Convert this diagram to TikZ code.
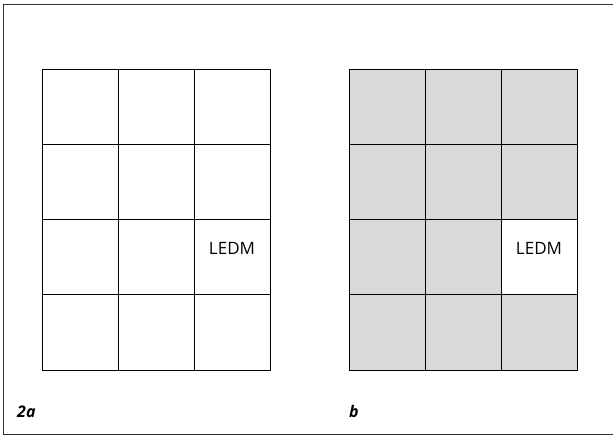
\documentclass[tikz,border=0pt]{standalone}
\usepackage{fontspec}
\setmainfont{Open Sans}
\usepackage{tikz}
\usetikzlibrary{positioning}
\definecolor{cellgray}{RGB}{217,217,217}

\begin{document}
\begin{tikzpicture}[
    x=1pt, y=-1pt,
    cell/.style={rectangle, draw=black, line width=0.9pt, fill=white, minimum width=76pt, minimum height=75.25pt, inner sep=0pt, outer sep=0pt},
    shaded/.style={cell, fill=cellgray},
    tag/.style={font=\fontsize{16}{18}\selectfont\bfseries\itshape, anchor=base west, inner sep=0pt},
    font=\fontsize{17}{20}\selectfont
]
    \useasboundingbox (0,0) rectangle (613,436);

    % --- outer frame (open at the right) ---
    \coordinate (tr) at (614,4.5);
    \coordinate (tl) at (3,4.5);
    \coordinate (bl) at (3,434.5);
    \coordinate (br) at (614,434.5);
    \draw[line width=1pt, black!80] (tr)--(tl)--(bl)--(br);

    % --- GRID 2a (white) ---
    \begin{scope}[xshift=0pt]
        \node[cell] (a11) at (80,106.6) {};
        \node[cell] (a12) [right=0pt of a11] {};
        \node[cell] (a13) [right=0pt of a12] {};
        \node[cell] (a21) [below=0pt of a11] {};
        \node[cell] (a22) [right=0pt of a21] {};
        \node[cell] (a23) [right=0pt of a22] {};
        \node[cell] (a31) [below=0pt of a21] {};
        \node[cell] (a32) [right=0pt of a31] {};
        \node[cell] (a33) [right=0pt of a32] {};
        \node[cell] (a41) [below=0pt of a31] {};
        \node[cell] (a42) [right=0pt of a41] {};
        \node[cell] (a43) [right=0pt of a42] {};
        \node (ledmA) [above=9pt of a33.center, anchor=center] {LEDM};
        \node[tag] (capA) at (17,417) {2a};
    \end{scope}

    % --- GRID b (grey, one white cell) ---
    \begin{scope}[xshift=307pt]
        \node[shaded] (b11) at (80,106.6) {};
        \node[shaded] (b12) [right=0pt of b11] {};
        \node[shaded] (b13) [right=0pt of b12] {};
        \node[shaded] (b21) [below=0pt of b11] {};
        \node[shaded] (b22) [right=0pt of b21] {};
        \node[shaded] (b23) [right=0pt of b22] {};
        \node[shaded] (b31) [below=0pt of b21] {};
        \node[shaded] (b32) [right=0pt of b31] {};
        \node[cell] (b33) [right=0pt of b32] {};
        \node[shaded] (b41) [below=0pt of b31] {};
        \node[shaded] (b42) [right=0pt of b41] {};
        \node[shaded] (b43) [right=0pt of b42] {};
        \node (ledmB) [above=9pt of b33.center, anchor=center] {LEDM};
        \node[tag] (capB) at (42,417) {b};
    \end{scope}
\end{tikzpicture}
\end{document}
